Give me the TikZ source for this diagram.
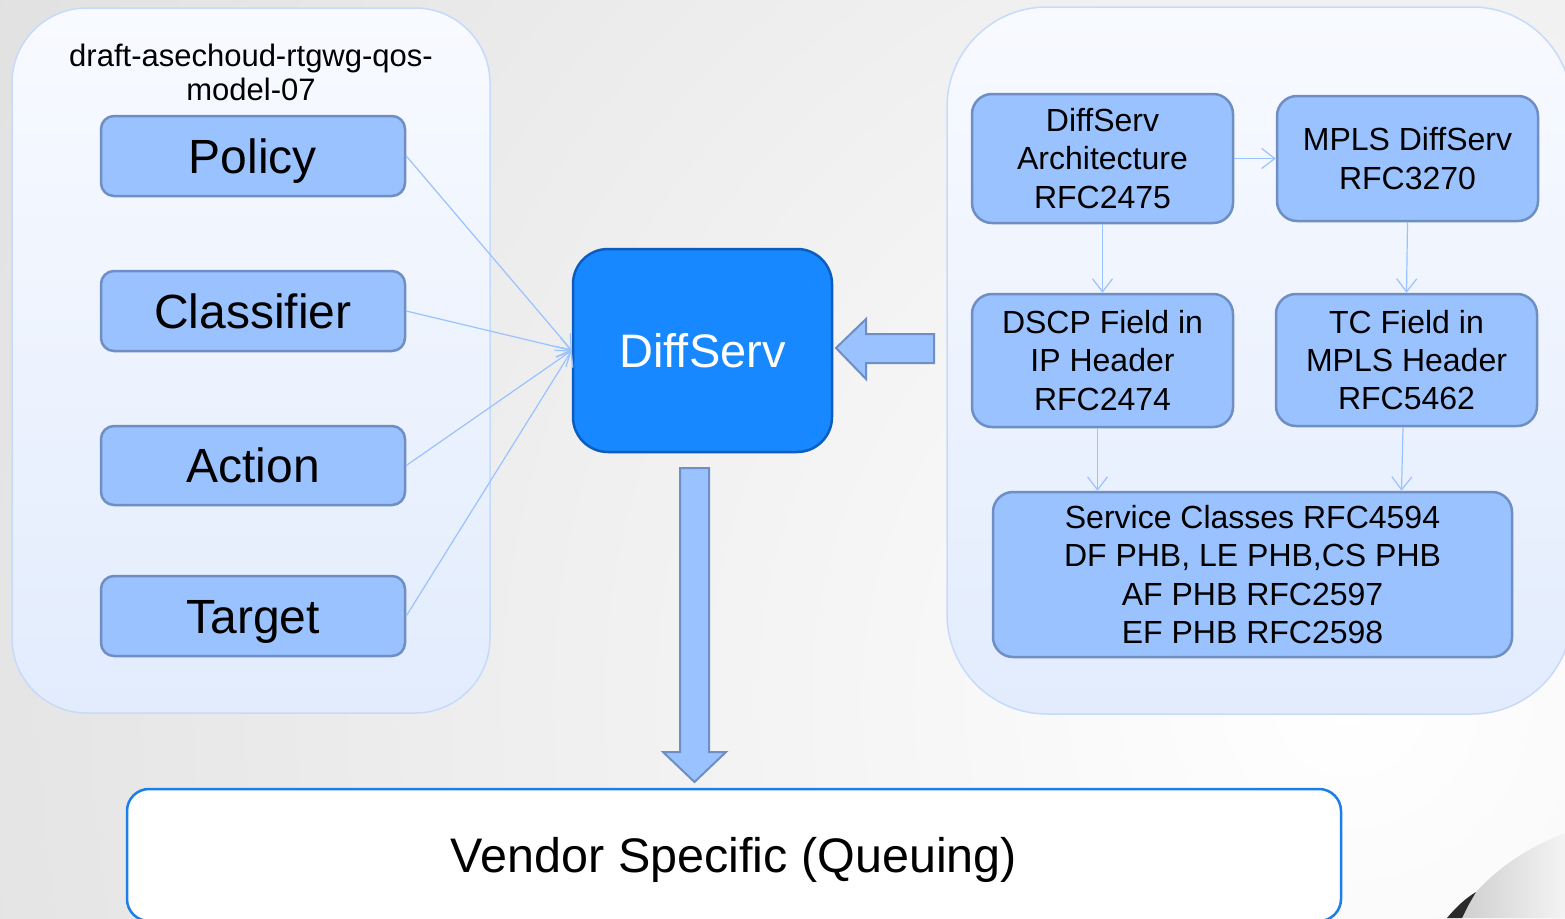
\documentclass[tikz,border=0pt]{standalone}
\usepackage{fontspec}
\setmainfont{Liberation Sans}
\usetikzlibrary{arrows.meta}
\definecolor{bggrey}{HTML}{DCDCDC}
\definecolor{paneltop}{HTML}{F8FAFF}
\definecolor{panelbot}{HTML}{E2ECFD}
\definecolor{panelline}{HTML}{C6DAFB}
\definecolor{boxfill}{HTML}{99C2FF}
\definecolor{boxline}{HTML}{6F8EC3}
\definecolor{dsfill}{HTML}{1788FF}
\definecolor{dsline}{HTML}{0D5DBF}
\definecolor{vendline}{HTML}{1A7FEB}
\definecolor{connblue}{HTML}{99C2FF}
\definecolor{swooshdark}{HTML}{2A2A2A}
\definecolor{swooshgrey}{HTML}{CFCFCF}
\begin{document}
\begin{tikzpicture}[x=1pt,y=-1pt,
  panel/.style={draw=panelline, line width=1.5pt, top color=paneltop, bottom color=panelbot},
  leftbox/.style={draw=boxline, line width=2.5pt, fill=boxfill, rounded corners=13pt,
    minimum width=304pt, minimum height=80pt, inner sep=0pt, text height=34pt, text depth=0pt,
    font=\fontsize{48}{56}\selectfont},
  rfcbox/.style={draw=boxline, line width=2.5pt, fill=boxfill, rounded corners=20pt,
    inner sep=0pt, align=center, font=\fontsize{32}{38.3}\selectfont},
  conn/.style={draw=connblue, line width=1.2pt, -{Straight Barb[length=13pt,width=20pt,line width=1.2pt]}},
  blockarrow/.style={draw=boxline, line width=2pt, fill=boxfill, line join=miter}
]
\useasboundingbox (0,0) rectangle (1565,918);
\clip (0,0) rectangle (1565,918);
% background
\fill[bggrey] (0,0) rectangle (1565,918);
\shade[inner color=white, outer color=bggrey] (1350,700) circle (1800);
% swoosh bottom right
\shade[left color=swooshgrey, right color=white!96!black]
  (1462,918) -- (1476,892) .. controls (1500,866) and (1530,846) .. (1568,832) -- (1568,918) -- cycle;
\fill[swooshdark] (1447,918) .. controls (1457,906) and (1466,898) .. (1476,892)
  -- (1468,906) -- (1462,918) -- cycle;
% panels
\draw[panel, rounded corners=75pt] (12,8) rectangle (490,713);
\draw[panel, rounded corners=100pt] (947,7) rectangle (1572,714);
% left panel
\node[align=center, font=\fontsize{31}{34}\selectfont] (title) at (251,72)
  {draft-asechoud-rtgwg-qos-\\model-07};
\node[leftbox] (policy) at (253,156) {Policy};
\node[leftbox] (classifier) at (253,311) {Classifier};
\node[leftbox, minimum height=79pt] (action) at (253,465.5) {Action};
\node[leftbox] (target) at (253,616) {Target};
% central node
\node[draw=dsline, line width=2.5pt, fill=dsfill, rounded corners=35pt,
  minimum width=259pt, minimum height=203pt, inner sep=0pt, text=white,
  text height=34pt, text depth=0pt,
  font=\fontsize{47}{56}\selectfont] (ds) at (702.5,350.5) {DiffServ};
% right panel
\node[rfcbox, minimum width=261pt, minimum height=129pt] (arch) at (1102.5,158.5)
  {DiffServ\\Architecture\\RFC2475};
\node[rfcbox, minimum width=261pt, minimum height=125pt] (mpls) at (1407.5,158.5)
  {MPLS DiffServ\\RFC3270};
\node[rfcbox, minimum width=261pt, minimum height=133pt] (dscp) at (1102.5,360.5)
  {DSCP Field in\\IP Header\\RFC2474};
\node[rfcbox, minimum width=261pt, minimum height=132pt] (tc) at (1406.5,360)
  {TC Field in\\MPLS Header\\RFC5462};
\node[rfcbox, minimum width=519pt, minimum height=165pt] (svc) at (1252.5,574.5)
  {Service Classes RFC4594\\DF PHB, LE PHB,CS PHB\\AF PHB RFC2597\\EF PHB RFC2598};
% bottom box
\node[draw=vendline, line width=2.5pt, fill=white, rounded corners=22pt,
  minimum width=1214pt, minimum height=132pt, inner sep=0pt,
  text height=34pt, text depth=0pt,
  font=\fontsize{48.5}{56}\selectfont] (vendor) at (734,855) {Vendor Specific (Queuing)};
% thin connectors
\draw[conn] (policy.east) -- (ds.west);
\draw[conn] (classifier.east) -- (ds.west);
\draw[conn] (action.east) -- (ds.west);
\draw[conn] (target.east) -- (ds.west);
\draw[conn] (arch.east) -- (mpls.west);
\draw[conn] (arch.south) -- (dscp.north);
\draw[conn] (mpls.south) -- (tc.north);
\draw[conn] ([xshift=-5pt]dscp.south) -- ([xshift=-5pt]dscp.south |- svc.north);
\draw[conn] ([xshift=-3.5pt]tc.south) -- ([xshift=-5pt]tc.south |- svc.north);
% block arrows
\draw[blockarrow] (836,348) -- (866,319) -- (866,334) -- (934,334) -- (934,363)
  -- (866,363) -- (866,379) -- cycle;
\draw[blockarrow] (680,468) -- (709,468) -- (709,752) -- (726,752) -- (694.5,782)
  -- (663,752) -- (680,752) -- cycle;
\end{tikzpicture}
\end{document}
